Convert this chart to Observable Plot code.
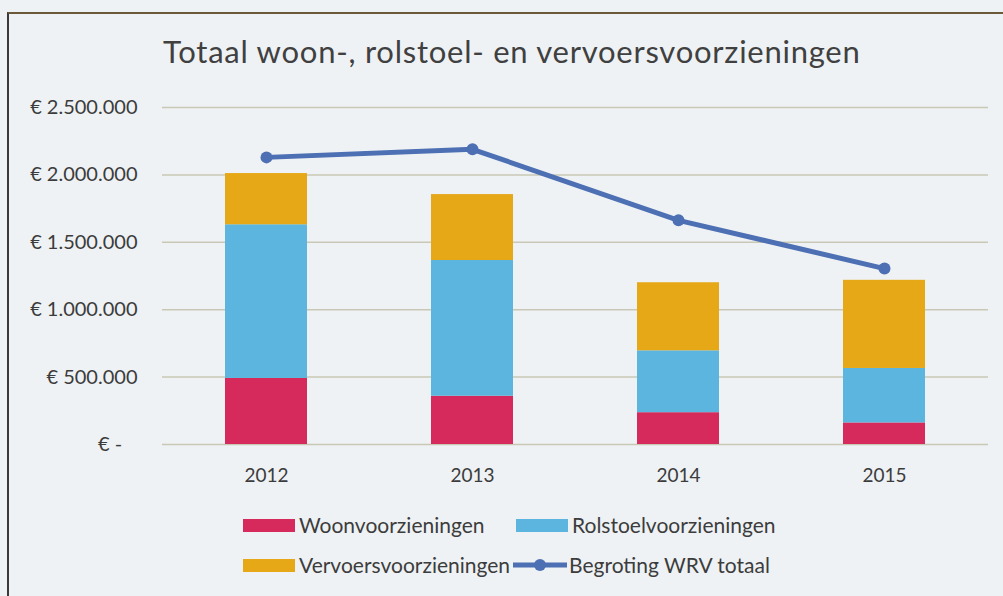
<!DOCTYPE html>
<html><head><meta charset="utf-8">
<script src="https://cdn.jsdelivr.net/npm/d3@7"></script>
<script src="https://cdn.jsdelivr.net/npm/@observablehq/plot@0.6"></script>
<style>
body{margin:0;background:#eef2f4;font-family:Lato,sans-serif;}
#wrap{position:relative;width:1003px;height:596px;overflow:hidden;background:#eef2f4;}
#frame{position:absolute;left:7px;top:12px;width:1100px;height:700px;border-left:2px solid #3a3a3a;border-top:2px solid #6b5a3a;}
#title{position:absolute;left:163px;top:36px;font-size:31px;line-height:31px;letter-spacing:0.75px;color:#404040;white-space:nowrap;}
#chart{position:absolute;left:0;top:80px;}
.item{position:absolute;display:flex;align-items:center;font-size:21px;line-height:22px;color:#3c3c3c;white-space:nowrap;}
.sw{display:inline-block;width:52px;height:13px;margin-right:4px;}
</style></head>
<body>
<div id="wrap">
  <div id="frame"></div>
  <div id="title">Totaal woon-, rolstoel- en vervoersvoorzieningen</div>
  <div id="chart"></div>
  <div id="legend"></div>
</div>
<script>
const years = ["2012", "2013", "2014", "2015"];
const woon = [490000, 358000, 236000, 160000];
const rolstoel = [1140000, 1007000, 459000, 404000];
const vervoer = [380000, 489000, 505000, 654000];
const begroting = [2130000, 2190000, 1663000, 1305000];
const seriesNames = ["Woonvoorzieningen", "Rolstoelvoorzieningen", "Vervoersvoorzieningen"];
const lineName = "Begroting WRV totaal";
const colors = ["#d62a5c", "#5cb5de", "#e7a817"];
const lineColor = "#4d6fb3";
const yTicks = [0, 500000, 1000000, 1500000, 2000000, 2500000];

const rows = [];
years.forEach((yr, i) => {
  [woon, rolstoel, vervoer].forEach((arr, j) => rows.push({year: yr, series: seriesNames[j], value: arr[i]}));
});
const lineData = years.map((yr, i) => ({year: yr, value: begroting[i]}));

const fmt = v => v === 0 ? "€ -\u00a0\u00a0\u00a0" : "€ " + d3.format(",")(v).replace(/,/g, ".");

const chart = Plot.plot({
  width: 1003, height: 415,
  marginLeft: 162, marginRight: 15, marginTop: 27, marginBottom: 51,
  style: {background: "transparent", fontFamily: "Lato, sans-serif"},
  x: {domain: years, paddingInner: 0.6, paddingOuter: 0.3},
  y: {domain: [0, 2500000]},
  color: {domain: seriesNames, range: colors},
  marks: [
    Plot.ruleY(yTicks, {stroke: "#c9c8b6", strokeWidth: 1.5}),
    Plot.barY(rows, {x: "year", y: "value", fill: "series"}),
    Plot.line(lineData, {x: "year", y: "value", stroke: lineColor, strokeWidth: 5}),
    Plot.dot(lineData, {x: "year", y: "value", fill: lineColor, r: 6}),
    Plot.axisX({tickSize: 0, tickPadding: 24, fontSize: 19, label: null, fill: "#3c3c3c"}),
    Plot.axisY({ticks: yTicks, tickFormat: fmt, tickSize: 0, tickPadding: 25, fontSize: 20, label: null, fill: "#3c3c3c"})
  ]
});
document.getElementById("chart").appendChild(chart);

const legend = document.getElementById("legend");
const items = [
  {name: seriesNames[0], color: colors[0], left: 243, top: 514, type: "bar"},
  {name: seriesNames[1], color: colors[1], left: 516, top: 514, type: "bar"},
  {name: seriesNames[2], color: colors[2], left: 243, top: 554, type: "bar"},
  {name: lineName, color: lineColor, left: 513, top: 554, type: "line"}
];
items.forEach(it => {
  const d = document.createElement("div");
  d.className = "item";
  d.style.left = it.left + "px";
  d.style.top = it.top + "px";
  if (it.type === "bar") {
    const s = document.createElement("span");
    s.className = "sw";
    s.style.background = it.color;
    d.appendChild(s);
  } else {
    const ns = "http://www.w3.org/2000/svg";
    const svg = document.createElementNS(ns, "svg");
    svg.setAttribute("width", 54); svg.setAttribute("height", 14);
    svg.style.marginRight = "2px";
    const l = document.createElementNS(ns, "line");
    l.setAttribute("x1", 0); l.setAttribute("x2", 54); l.setAttribute("y1", 7); l.setAttribute("y2", 7);
    l.setAttribute("stroke", it.color); l.setAttribute("stroke-width", 5);
    const c = document.createElementNS(ns, "circle");
    c.setAttribute("cx", 27); c.setAttribute("cy", 7); c.setAttribute("r", 6); c.setAttribute("fill", it.color);
    svg.appendChild(l); svg.appendChild(c);
    d.appendChild(svg);
  }
  const t = document.createElement("span");
  t.textContent = it.name;
  d.appendChild(t);
  legend.appendChild(d);
});
</script>
</body></html>
